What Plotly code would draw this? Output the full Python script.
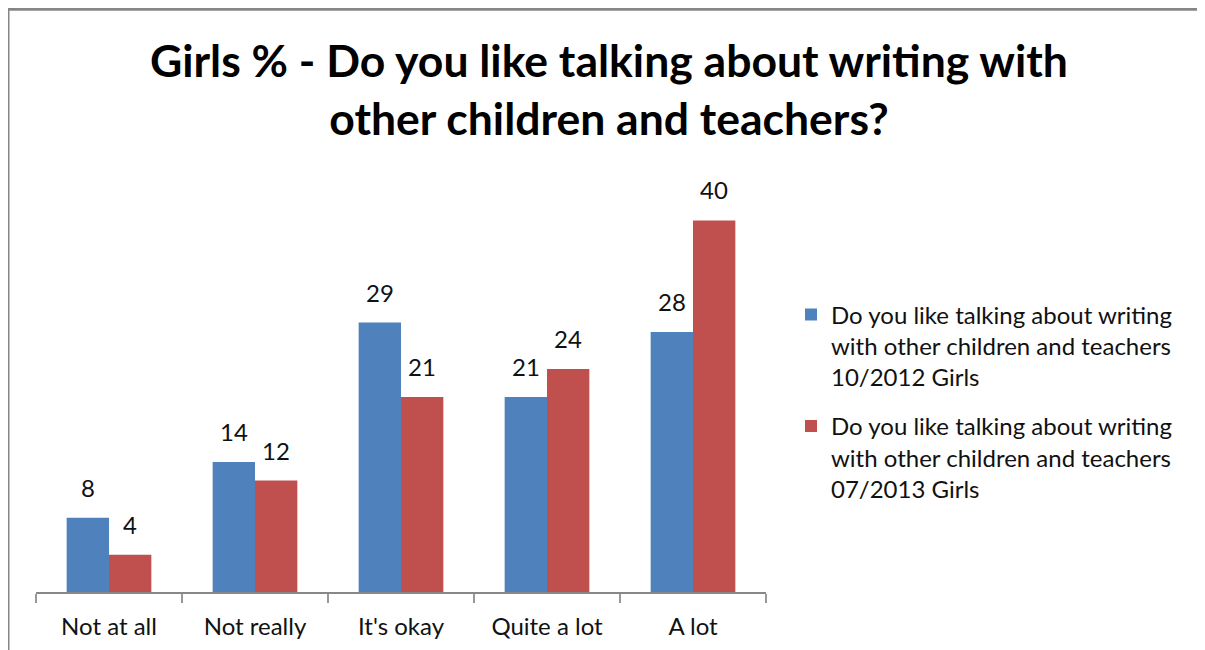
import plotly.graph_objects as go

categories = ["Not at all", "Not really", "It's okay", "Quite a lot", "A lot"]
series_names = [
    "Do you like talking about writing<br>with other children and teachers<br>10/2012 Girls",
    "Do you like talking about writing<br>with other children and teachers<br>07/2013 Girls",
]
values_2012 = [8, 14, 29, 21, 28]
values_2013 = [4, 12, 21, 24, 40]
colors = ["#4F81BD", "#C0504D"]
title_text = "<b>Girls % - Do you like talking about writing with<br>other children and teachers?</b>"

# page has an 8px body margin, so the figure is slightly smaller
W, H = 1197, 642
L, R = 28, 758
T, B = 165.5, 584
ymax = 45

fig = go.Figure()
for k, (name, vals, col) in enumerate(zip(series_names, [values_2012, values_2013], colors)):
    fig.add_trace(go.Bar(x=categories, y=vals, name=name, marker_color=col,
                         marker_line_width=0, legendgroup=f"g{k}"))

# data labels
for vals, shift in [(values_2012, -21), (values_2013, 21)]:
    for c, v in zip(categories, vals):
        fig.add_annotation(x=c, y=v, text=str(v), showarrow=False,
                           xshift=shift, yshift=14, yanchor="bottom",
                           font=dict(family="Lato", size=24, color="#111"))

px2x = lambda p: (p - L) / (R - L)
px2y = lambda p: (B - p) / (B - T)

# title
fig.add_annotation(text=title_text, xref="paper", yref="paper",
                   x=px2x(601), y=px2y(22), xanchor="center", yanchor="top",
                   showarrow=False, align="center",
                   font=dict(family="Lato", size=44.5, color="#000"))

# frame (top and left edges visible)
frame = dict(color="#868686", width=3)
fig.add_shape(type="line", xref="paper", yref="paper",
              x0=px2x(0), x1=px2x(W + 10), y0=px2y(0.5), y1=px2y(0.5), line=frame)
fig.add_shape(type="line", xref="paper", yref="paper",
              x0=px2x(0), x1=px2x(0), y0=px2y(0.5), y1=px2y(H + 10), line=frame)

fig.update_layout(
    width=W, height=H,
    margin=dict(l=L, r=W - R, t=T, b=H - B, pad=0, autoexpand=False),
    paper_bgcolor="white", plot_bgcolor="white",
    barmode="group", bargap=0.42, bargroupgap=0,
    showlegend=True,
    legend=dict(x=px2x(783), y=px2y(284), xanchor="left", yanchor="top",
                font=dict(family="Lato", size=24, color="#111"),
                tracegroupgap=15, itemwidth=30, valign="top",
                bgcolor="rgba(0,0,0,0)"),
    xaxis=dict(showline=True, linecolor="#888", linewidth=2, ticks="outside",
               tickson="boundaries", ticklen=9, tickcolor="#999", tickwidth=2,
               tickfont=dict(family="Lato", size=24, color="#111"),
               ticklabelstandoff=12, automargin=False,
               showgrid=False, zeroline=False),
    yaxis=dict(range=[0, ymax], visible=False, showgrid=False, zeroline=False,
               automargin=False),
)

fig.write_html("out.html")
